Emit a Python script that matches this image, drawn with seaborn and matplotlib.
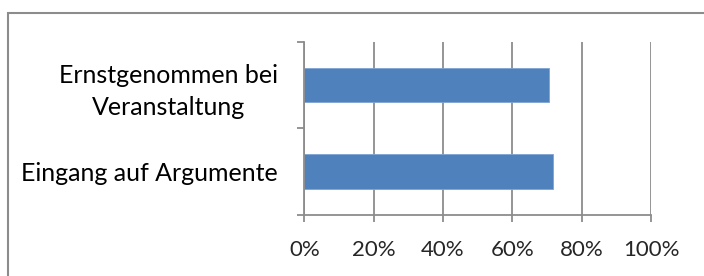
import numpy as np
import pandas as pd
import seaborn as sns
import matplotlib.pyplot as plt
from matplotlib.patches import Rectangle
from matplotlib.ticker import FixedLocator, PercentFormatter

# data
categories = ['Ernstgenommen bei\nVeranstaltung', 'Eingang auf Argumente']
values = [70.6, 71.7]
xticks = [0, 20, 40, 60, 80, 100]

df = pd.DataFrame({'cat': categories, 'val': values})

sns.set_style('white')
plt.rcParams['font.family'] = ['Lato', 'DejaVu Sans']

fig = plt.figure(figsize=(7.04, 2.76), dpi=100)
ax = fig.add_axes([0.4323, 0.221, 0.4924, 0.628])

sns.barplot(data=df, x='val', y='cat', orient='h', color='#4F81BD',
            width=0.4, saturation=1, ax=ax, edgecolor='#7FA3D3', linewidth=0.6)

ax.set_xlim(0, 100)
ax.set_ylim(1.5, -0.5)
ax.set_xticks(xticks)
ax.xaxis.set_major_formatter(PercentFormatter(decimals=0))
ax.grid(axis='x', color='#8C8C8C', linewidth=1.3)
ax.set_axisbelow(True)

# ticks between categories, labels at the centres
ax.yaxis.set_major_locator(FixedLocator([-0.5, 0.5, 1.5]))
ax.yaxis.set_major_formatter(plt.NullFormatter())
ax.yaxis.set_minor_locator(FixedLocator([0, 1]))
labs = ax.set_yticklabels(categories, minor=True, ha='right')
for t in labs:
    t.set_multialignment('center')
    t.set_linespacing(1.45)
ax.tick_params(axis='y', which='major', length=5, width=1.3, color='#8C8C8C', left=True)
ax.tick_params(axis='y', which='minor', length=0, pad=19, labelsize=18, labelcolor='black')
ax.tick_params(axis='x', length=5, width=1.3, color='#8C8C8C', bottom=True,
               labelsize=16, pad=13)

ax.set_xlabel('')
ax.set_ylabel('')
sns.despine(ax=ax, top=True, right=True)
for s in ['left', 'bottom']:
    ax.spines[s].set_color('#8C8C8C')
    ax.spines[s].set_linewidth(1.3)

# chart frame, runs off the right and bottom edge
fig.patches.append(Rectangle((8 / 704, -0.1), 1.2, 1 - 13 / 276 + 0.1,
                             transform=fig.transFigure, fill=False,
                             edgecolor='#8C8C8C', linewidth=1.5))

fig.savefig('out.png', dpi=100)
